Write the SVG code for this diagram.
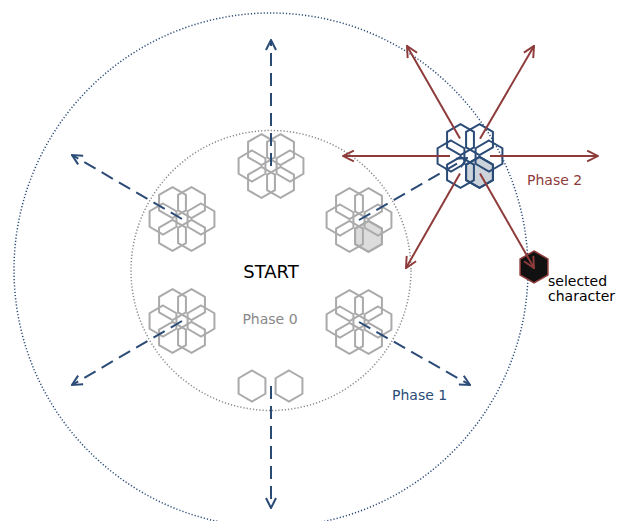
<svg xmlns="http://www.w3.org/2000/svg" xmlns:xlink="http://www.w3.org/1999/xlink" width="617" height="521" viewBox="0 0 617 521">
<style>
.grey{fill:none;stroke:#aaaaaa;stroke-width:2}
.blue{fill:none;stroke:#2b4b77;stroke-width:2}
.b1{stroke:#2b4b77;stroke-width:2;stroke-dasharray:13 7;fill:none}
.r2{stroke:#8e3b3b;stroke-width:2;fill:none}
.t{font-family:"DejaVu Sans",Verdana,sans-serif;font-size:14px}
</style>
<defs>
<path id="hex" d="M0,-15.5 L13.42,-7.75 L13.42,7.75 L0,15.5 L-13.42,7.75 L-13.42,-7.75 Z"/>
<g id="flower">
<use xlink:href="#hex" x="9.5" y="-16.45"/>
<use xlink:href="#hex" x="-9.5" y="-16.45"/>
<use xlink:href="#hex" x="-19" y="0"/>
<use xlink:href="#hex" x="19" y="0"/>
<use xlink:href="#hex" x="-9.5" y="16.45"/>
<use xlink:href="#hex" x="9.5" y="16.45"/>
</g>
<marker id="ab" viewBox="0 0 12 12" refX="11" refY="6" markerWidth="12" markerHeight="12" markerUnits="userSpaceOnUse" orient="auto">
<path d="M1,1 L11,6 L1,11" fill="none" stroke="#2b4b77" stroke-width="2"/>
</marker>
<marker id="ar" viewBox="0 0 12 12" refX="11" refY="6" markerWidth="13" markerHeight="13" markerUnits="userSpaceOnUse" orient="auto">
<path d="M1,1 L11,6 L1,11" fill="none" stroke="#8e3b3b" stroke-width="1.8"/>
</marker>
</defs>
<rect width="617" height="521" fill="#ffffff"/>
<g id="rings">
<circle cx="271" cy="270" r="257" fill="none" stroke="#2b4b77" stroke-width="1.5" stroke-dasharray="1.2 2"/>
<circle cx="271" cy="270.5" r="140" fill="none" stroke="#888888" stroke-width="1.5" stroke-dasharray="1.2 2"/>
</g>
<g id="start"><text class="t" x="271" y="278" font-size="18" style="font-size:18px" text-anchor="middle" fill="#000">START</text></g>
<g id="phase0"><text class="t" x="270" y="324" text-anchor="middle" fill="#888888">Phase 0</text></g>
<g id="phase1"><text class="t" x="392" y="400" fill="#2b4b77">Phase 1</text></g>
<g id="phase2"><text class="t" x="527" y="185" fill="#8e3b3b">Phase 2</text></g>
<g id="selected-label"><text class="t" x="548" y="286" fill="#000">selected</text><text class="t" x="548" y="301" fill="#000">character</text></g>
<g id="cluster-top" class="grey"><use xlink:href="#flower" x="271" y="166"/></g>
<g id="cluster-upper-left" class="grey"><use xlink:href="#flower" x="182" y="219"/></g>
<g id="cluster-upper-right" class="grey">
<use xlink:href="#hex" x="368.5" y="236.45" fill="#dcdcdc"/>
<use xlink:href="#flower" x="359" y="220"/>
</g>
<g id="cluster-lower-left" class="grey"><use xlink:href="#flower" x="182" y="321"/></g>
<g id="cluster-lower-right" class="grey"><use xlink:href="#flower" x="359" y="322"/></g>
<g id="cluster-bottom" class="grey">
<use xlink:href="#hex" x="252" y="386"/>
<use xlink:href="#hex" x="289" y="386"/>
</g>
<g id="cluster-blue" class="blue">
<use xlink:href="#hex" x="479.5" y="172.45" fill="#cdd3da"/>
<use xlink:href="#flower" x="470" y="156"/>
</g>
<g id="selected-character">
<path d="M534,251 L547.9,259 L547.9,275 L534,283 L520.1,275 L520.1,259 Z" fill="#111111" stroke="#8e3b3b" stroke-width="1.5"/>
</g>
<g id="connectors">
<line class="b1" x1="271" y1="166" x2="271" y2="40" marker-end="url(#ab)"/>
<line class="b1" x1="182" y1="219" x2="72" y2="155" marker-end="url(#ab)"/>
<line class="b1" x1="359" y1="220" x2="467" y2="158" marker-end="url(#ab)"/>
<line class="b1" x1="182" y1="321" x2="72" y2="385" marker-end="url(#ab)"/>
<line class="b1" x1="359" y1="322" x2="470" y2="385" marker-end="url(#ab)"/>
<line class="b1" x1="271" y1="386" x2="271" y2="508" marker-end="url(#ab)"/>
<line class="r2" x1="450" y1="156" x2="343" y2="156" marker-end="url(#ar)"/>
<line class="r2" x1="490" y1="156" x2="598" y2="156" marker-end="url(#ar)"/>
<line class="r2" x1="460" y1="138.6" x2="407" y2="46" marker-end="url(#ar)"/>
<line class="r2" x1="480" y1="138.7" x2="534" y2="46" marker-end="url(#ar)"/>
<line class="r2" x1="460" y1="173.4" x2="406" y2="268" marker-end="url(#ar)"/>
<line class="r2" x1="480" y1="173.4" x2="534" y2="268" marker-end="url(#ar)"/>
</g>
</svg>
